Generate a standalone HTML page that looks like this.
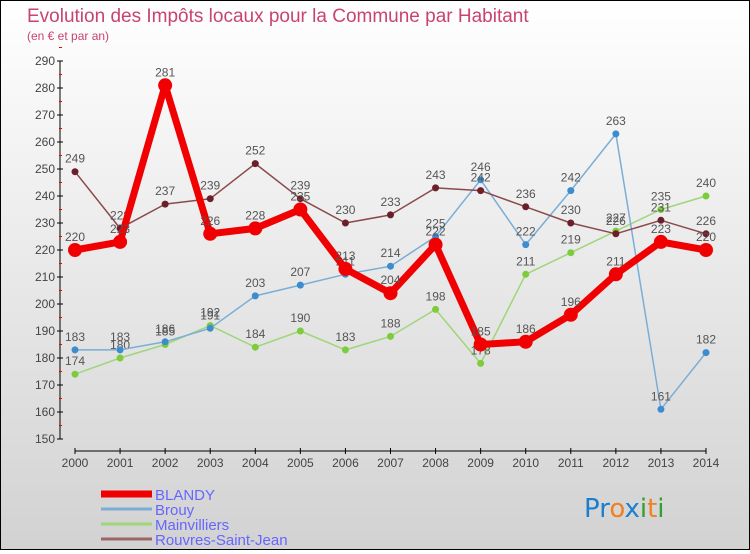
<!DOCTYPE html>
<html><head><meta charset="utf-8"><style>
body{margin:0}
#c{width:748px;height:548px;border:1px solid #000;background:linear-gradient(#fff,#d2d2d2);position:relative;font-family:"Liberation Sans",sans-serif}
</style></head><body>
<div id="c">
<svg id="s" width="748" height="548">
<text x="26" y="21" font-size="19" fill="#c8446f">Evolution des Impôts locaux pour la Commune par Habitant</text>
<text x="26" y="39" font-size="12" fill="#c8446f">(en € et par an)</text>
</svg>
</div>
<script>
const years=["2000","2001","2002","2003","2004","2005","2006","2007","2008","2009","2010","2011","2012","2013","2014"];
const blandy=[220,223,281,226,228,235,213,204,222,185,186,196,211,223,220];
const brouy=[183,183,186,191,203,207,211,214,225,246,222,242,263,161,182];
const mainv=[174,180,185,192,184,190,183,188,198,178,211,219,227,235,240];
const rouvres=[249,228,237,239,252,239,230,233,243,242,236,230,226,231,226];
const yTicks=[150,160,170,180,190,200,210,220,230,240,250,260,270,280,290];
const s=document.getElementById('s'),NS="http://www.w3.org/2000/svg";
const X=i=>74+i*(631/14), Y=v=>438-(v-150)*2.7;
function el(t,a,p){const e=document.createElementNS(NS,t);for(const k in a)e.setAttribute(k,a[k]);(p||s).appendChild(e);return e;}
let ax=el('line',{x1:59,y1:Y(290),x2:59,y2:Y(150),stroke:'#000'});

yTicks.forEach(v=>{el('line',{x1:56,x2:62,y1:Y(v),y2:Y(v),stroke:'#000'});
el('line',{x1:58,x2:61,y1:Y(v+5),y2:Y(v+5),stroke:'#e00'});
const t=el('text',{x:54,y:Y(v)+4,'text-anchor':'end','font-size':12,fill:'#444'});t.textContent=v;
});
let xa=el('line',{x1:X(0),y1:450,x2:X(14),y2:450,stroke:'#000'});

years.forEach((y,i)=>{el('line',{x1:X(i),x2:X(i),y1:447,y2:453,stroke:'#000'});
const t=el('text',{x:X(i),y:466,'text-anchor':'middle','font-size':12,fill:'#444'});t.textContent=y;
});
function series(d,col,dot,w,r,name){
 const p=el('polyline',{points:d.map((v,i)=>X(i)+','+Y(v)).join(' '),fill:'none',stroke:col,'stroke-width':w,'stroke-linejoin':'round'});
 
 d.forEach((v,i)=>{const c=el('circle',{cx:X(i),cy:Y(v),r:r,fill:dot});
 
 const t=el('text',{x:X(i),y:Y(v)-9,'text-anchor':'middle','font-size':12,fill:'#555'});t.textContent=v;
 });
}
series(mainv,'#9ed67a','#7ccc3c',1.5,3.5,'mainvilliers');
series(brouy,'#7aaed6','#3c8cd0',1.5,3.5,'brouy');
series(rouvres,'#8a4a4a','#6a1f2a',1.5,3.5,'rouvres');
series(blandy,'#f00000','#f00000',7,7,'blandy');
const leg=[["BLANDY","#f00000",7],["Brouy","#7aaed6",3],["Mainvilliers","#9ed67a",3],["Rouvres-Saint-Jean","#9a6666",3]];
leg.forEach((l,i)=>{const y=493+i*15;
const g=el('g',{});
el('line',{x1:100,x2:151,y1:y,y2:y,stroke:l[1],'stroke-width':l[2]},g);
const t=el('text',{x:154,y:y+6,'font-size':15,fill:'#6666ff'},g);t.textContent=l[0];});
const lg=el('text',{x:583,y:516,'font-size':26,'font-family':'DejaVu Sans'});
[["P","#1a7fd0"],["r","#1a7fd0"],["o","#f08020"],["x","#1a7fd0"],["i","#30a030"],["t","#f08020"],["i","#30a030"]].forEach(a=>{const sp=el('tspan',{fill:a[1]},lg);sp.textContent=a[0];});
</script>
</body></html>
